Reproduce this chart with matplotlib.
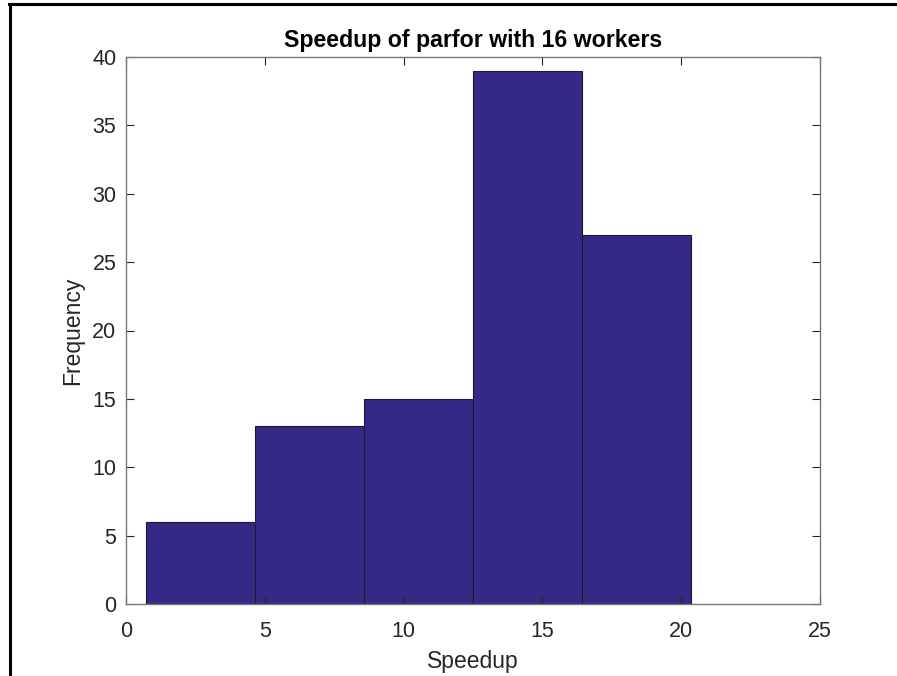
import matplotlib
matplotlib.use("Agg")
import matplotlib.pyplot as plt
from matplotlib.lines import Line2D

# histogram of parfor speedups (16 workers)
bin_edges = [0.72, 4.65, 8.57, 12.50, 16.43, 20.35]
counts = [6, 13, 15, 39, 27]
x_ticks = [0, 5, 10, 15, 20, 25]
y_ticks = [0, 5, 10, 15, 20, 25, 30, 35, 40]

plt.rcParams['font.family'] = ['Liberation Sans', 'DejaVu Sans']

W, H = 897, 676
fig = plt.figure(figsize=(W / 100, H / 100), dpi=100)
ax = fig.add_axes([126 / W, (H - 604) / H, 694 / W, 547 / H])

ax.hist(bin_edges[:-1], bins=bin_edges, weights=counts,
        color='#342a86', edgecolor='#1a1a2e', linewidth=0.8)

ax.set_xlim(0, 25)
ax.set_ylim(0, 40)
ax.set_xticks(x_ticks)
ax.set_yticks(y_ticks)
ax.tick_params(direction='in', length=6, width=0.8, top=True, right=True,
               labelsize=15.5, labelcolor='#262626', color='#262626')
ax.tick_params(axis='x', pad=12)
ax.tick_params(axis='y', pad=7)
for sp in ax.spines.values():
    sp.set_color('#777777')
    sp.set_linewidth(1.0)

ax.set_xlabel('Speedup', fontsize=16.5, color='#262626', labelpad=6)
ax.set_ylabel('Frequency', fontsize=16.5, color='#262626', labelpad=6)
ax.set_title('Speedup of parfor with 16 workers', fontsize=16.7,
             fontweight='bold', pad=7)

# window frame along top and left edge
fig.add_artist(Line2D([8.5 / W, 1], [1 - 4 / H, 1 - 4 / H], color='black',
                      linewidth=2.2, transform=fig.transFigure))
fig.add_artist(Line2D([9.5 / W, 9.5 / W], [0, 1 - 4 / H], color='black',
                      linewidth=2.2, transform=fig.transFigure))

fig.savefig('out.png', dpi=100)
